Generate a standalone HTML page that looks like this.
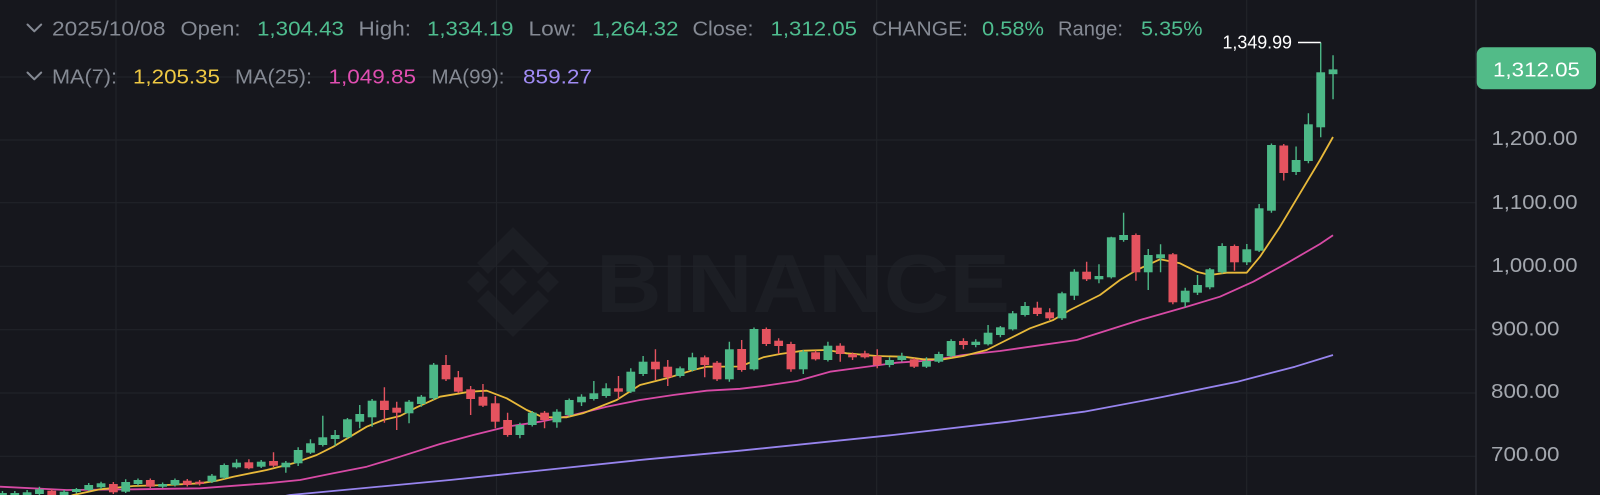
<!DOCTYPE html>
<html><head><meta charset="utf-8"><style>
html,body{margin:0;padding:0;background:#16171d;}
svg{display:block;}
text{font-family:"Liberation Sans",sans-serif;}
</style></head><body>
<svg width="1600" height="495" viewBox="0 0 1600 495" xmlns="http://www.w3.org/2000/svg">
<rect width="1600" height="495" fill="#16171d"/>
<g fill="#1c1e24">
<polygon points="513,268 527,282 513,296 499,282"/>
<polygon points="478,271 489,282 478,293 467,282"/>
<polygon points="548,271 559,282 548,293 537,282"/>
<polygon points="513,227 549,263 538,274 513,249 488,274 477,263"/>
<polygon points="513,337 549,301 538,290 513,315 488,290 477,301"/>
<text x="596" y="312" font-size="83" font-weight="bold" textLength="414" lengthAdjust="spacingAndGlyphs">BINANCE</text>
</g>
<g stroke="#212329" stroke-width="1.2">
<path d="M0 77H1476M0 140H1476M0 202.7H1476M0 266.3H1476M0 329.7H1476M0 393H1476M0 456.3H1476"/>
<path d="M116 0V495M496.5 0V495M876.7 0V495M1246.7 0V495"/>
</g>
<path d="M1476 0V495" stroke="#2a2d35" stroke-width="1.5"/>
<polyline fill="none" stroke="#9784ee" stroke-width="1.8" stroke-linejoin="round" points="280,497 290,495 450,480 646.7,459.3 740,450.7 893,435 1008,421.7 1084,411.7 1161,397.3 1237.5,381.7 1295,366.7 1333,355"/>
<polyline fill="none" stroke="#d74aa5" stroke-width="1.8" stroke-linejoin="round" points="0,486.7 66.7,490 133.3,489.3 200,488.3 266.7,483.3 300,480 333.3,473.3 366.7,466.7 400,456.7 440,444 473.3,435 506.7,426.7 540,421.7 573.3,415 606.7,406.7 640,400 673.3,395 706.7,390.7 740,388.8 763.3,386 797,381 830,371.7 850,369 896.7,362.7 930,360.5 963.3,355 1000,351 1030,346.7 1076.8,340 1140,320 1186.7,306.7 1220,296.7 1253.3,281.7 1286.7,263.3 1320,244 1333,235.2"/>
<polyline fill="none" stroke="#e8b93a" stroke-width="1.8" stroke-linejoin="round" points="60,500 73.3,495 100,489.3 133.3,486 166.7,485 200,483.3 216.7,480.7 233.3,476.7 266.7,470 293.3,463.3 316.7,455 333.3,446.7 350,436.7 366.7,426.7 383.3,420 400,416 416.7,407.3 440,396.7 470,391.7 486.7,390.7 506.7,398.3 526.7,410 543,417.3 566.7,417.3 583,413.3 616.7,400 640,385 666.7,378.3 693.3,370 706.7,366.7 740,366.5 763.3,357.3 780,354 803.3,350.7 826.7,350 846.7,353.3 876.7,356 903.3,356.7 923.3,359.3 943.3,359.3 963.3,356 986.7,350 1006.7,340 1030,328.3 1053.3,320 1070,310 1100,295 1120,280 1136.7,270 1160,259.3 1180,263.3 1196.7,271.7 1210,275 1226.7,272.7 1246.7,272.7 1260,256.7 1280,226.7 1300,193.3 1320,160 1333,137"/>
<g fill="#4cb887">
<path stroke="#4cb887" stroke-width="1.4" fill="none" d="M2.48 491V498M14.8 491V499M27.12 490V498M39.44 486.7V495.5M64.08 490V498M76.4 488V493.5M88.72 483V491M101.04 481.7V489M125.68 479.3V493M138 478.5V485.5M162.64 482.5V488M174.96 478.5V486.5M211.92 474V483M224.24 463.5V479M236.56 459.3V468.5M261.2 460V468M285.84 461V472.7M298.16 447.3V466M310.48 439.3V454M322.8 415.7V446.5M335.12 430V445.7M347.44 418V438.5M359.76 405V428.3M372.08 399V426.7M409.04 400V423.3M421.36 395V406.7M433.68 363V400M519.92 422.7V438.3M532.24 411V426.5M556.88 409.3V427.7M569.2 398.5V416.5M581.52 394.3V406M593.84 381V400.5M606.16 383.3V397.7M630.8 368.3V393M643.12 356V376M680.08 366.5V377.5M692.4 352.7V371.5M729.36 341.7V381.7M754 327.5V370.5M803.28 350V374M827.92 341.7V361.5M889.52 357.3V367.3M901.84 352.7V361.5M926.48 357.3V368M938.8 351.7V363M951.12 339.3V357.5M975.76 339.3V347.3M988.08 325V345.5M1000.4 326V337.3M1012.72 311V330.5M1025.04 302V316.5M1062 291.7V320M1074.32 269.3V300M1098.96 264.3V283.3M1111.28 236.7V278.5M1123.6 212.7V241.7M1148.24 249V290M1160.56 244.3V272.3M1185.2 287.7V307.3M1197.52 275V295M1209.84 268V289.3M1222.16 243.3V273.5M1246.8 244V265M1259.12 204V252M1271.44 143.5V212.7M1296.08 146.5V175M1308.4 113.3V163.3M1320.72 42.5V137.3M1333.04 55.2V99.3"/>
<rect x="-1.92" y="493" width="8.8" height="4"/>
<rect x="10.4" y="493" width="8.8" height="5"/>
<rect x="22.72" y="492.3" width="8.8" height="4.7"/>
<rect x="35.04" y="489.3" width="8.8" height="4.7"/>
<rect x="59.68" y="491.7" width="8.8" height="5.3"/>
<rect x="72" y="489" width="8.8" height="3"/>
<rect x="84.32" y="485" width="8.8" height="5"/>
<rect x="96.64" y="483.3" width="8.8" height="4"/>
<rect x="121.28" y="482" width="8.8" height="9.7"/>
<rect x="133.6" y="480" width="8.8" height="4"/>
<rect x="158.24" y="484" width="8.8" height="2.7"/>
<rect x="170.56" y="480" width="8.8" height="5"/>
<rect x="207.52" y="475.7" width="8.8" height="6"/>
<rect x="219.84" y="465" width="8.8" height="12.7"/>
<rect x="232.16" y="462.7" width="8.8" height="4.6"/>
<rect x="256.8" y="461.7" width="8.8" height="5"/>
<rect x="281.44" y="462.7" width="8.8" height="4.6"/>
<rect x="293.76" y="450" width="8.8" height="13.3"/>
<rect x="306.08" y="443.3" width="8.8" height="9.4"/>
<rect x="318.4" y="437.3" width="8.8" height="7.7"/>
<rect x="330.72" y="435" width="8.8" height="4"/>
<rect x="343.04" y="419.3" width="8.8" height="18"/>
<rect x="355.36" y="414" width="8.8" height="7.7"/>
<rect x="367.68" y="400.7" width="8.8" height="16.6"/>
<rect x="404.64" y="401.7" width="8.8" height="11.6"/>
<rect x="416.96" y="396.7" width="8.8" height="7.3"/>
<rect x="429.28" y="364.7" width="8.8" height="33.6"/>
<rect x="515.52" y="425" width="8.8" height="10"/>
<rect x="527.84" y="412.7" width="8.8" height="12.3"/>
<rect x="552.48" y="411.7" width="8.8" height="10.6"/>
<rect x="564.8" y="400" width="8.8" height="15"/>
<rect x="577.12" y="396.7" width="8.8" height="5.6"/>
<rect x="589.44" y="393.3" width="8.8" height="5.7"/>
<rect x="601.76" y="388.3" width="8.8" height="7.7"/>
<rect x="626.4" y="371.7" width="8.8" height="20"/>
<rect x="638.72" y="361.7" width="8.8" height="12.3"/>
<rect x="675.68" y="368.3" width="8.8" height="7.7"/>
<rect x="688" y="357.3" width="8.8" height="12.7"/>
<rect x="724.96" y="349.3" width="8.8" height="30"/>
<rect x="749.6" y="329" width="8.8" height="40.3"/>
<rect x="798.88" y="351.7" width="8.8" height="17.6"/>
<rect x="823.52" y="345.7" width="8.8" height="14.3"/>
<rect x="885.12" y="360" width="8.8" height="5"/>
<rect x="897.44" y="356" width="8.8" height="4"/>
<rect x="922.08" y="361" width="8.8" height="5.7"/>
<rect x="934.4" y="354" width="8.8" height="7.7"/>
<rect x="946.72" y="341" width="8.8" height="15"/>
<rect x="971.36" y="341.7" width="8.8" height="3.3"/>
<rect x="983.68" y="332.7" width="8.8" height="11.6"/>
<rect x="996" y="327.3" width="8.8" height="7.7"/>
<rect x="1008.32" y="313.3" width="8.8" height="16"/>
<rect x="1020.64" y="306" width="8.8" height="9"/>
<rect x="1057.6" y="293.3" width="8.8" height="25"/>
<rect x="1069.92" y="271.7" width="8.8" height="24"/>
<rect x="1094.56" y="276" width="8.8" height="3.3"/>
<rect x="1106.88" y="237.3" width="8.8" height="40"/>
<rect x="1119.2" y="235" width="8.8" height="5"/>
<rect x="1143.84" y="255" width="8.8" height="17.3"/>
<rect x="1156.16" y="254.3" width="8.8" height="4"/>
<rect x="1180.8" y="290.7" width="8.8" height="11.6"/>
<rect x="1193.12" y="285" width="8.8" height="7.7"/>
<rect x="1205.44" y="269.3" width="8.8" height="18"/>
<rect x="1217.76" y="246" width="8.8" height="26.3"/>
<rect x="1242.4" y="249.3" width="8.8" height="13"/>
<rect x="1254.72" y="208.3" width="8.8" height="42.4"/>
<rect x="1267.04" y="145" width="8.8" height="65.7"/>
<rect x="1291.68" y="160" width="8.8" height="12"/>
<rect x="1304" y="124.3" width="8.8" height="36.7"/>
<rect x="1316.32" y="72.3" width="8.8" height="55"/>
<rect x="1328.64" y="69.4" width="8.8" height="4.8"/>
</g>
<g fill="#e4535f">
<path stroke="#e4535f" stroke-width="1.4" fill="none" d="M51.76 489V497M113.36 482V494M150.32 478.5V488M187.28 479V486.5M199.6 480V485.5M248.88 459.3V469.3M273.52 452.3V467M384.4 387.3V422.7M396.72 401.7V430M446 355V381M458.32 371V393M470.64 386V415M482.96 384V407M495.28 396V428.3M507.6 412.7V436.7M544.56 411V428.3M618.48 376V399M655.44 349.3V380M667.76 360V386M704.72 355.5V377.3M717.04 361V381M741.68 340V371.7M766.32 327.5V346M778.64 338.3V354M790.96 341.7V371.7M815.6 350.5V360.5M840.24 343.3V361.7M852.56 352.5V360M864.88 350.7V358.5M877.2 349.3V368.3M914.16 358V368M963.44 338.3V349.3M1037.36 301.7V316M1049.68 308.3V320M1086.64 261.7V281M1135.92 233.5V280.7M1172.88 253V304.3M1234.48 244.5V270.7M1283.76 144V180.5"/>
<rect x="47.36" y="490.7" width="8.8" height="5.3"/>
<rect x="108.96" y="484" width="8.8" height="8.3"/>
<rect x="145.92" y="480" width="8.8" height="6.7"/>
<rect x="182.88" y="480.7" width="8.8" height="4.3"/>
<rect x="195.2" y="481.7" width="8.8" height="2.3"/>
<rect x="244.48" y="462.3" width="8.8" height="6"/>
<rect x="269.12" y="461" width="8.8" height="4.7"/>
<rect x="380" y="400.7" width="8.8" height="9.3"/>
<rect x="392.32" y="407.7" width="8.8" height="5"/>
<rect x="441.6" y="365" width="8.8" height="14.3"/>
<rect x="453.92" y="377.3" width="8.8" height="14.4"/>
<rect x="466.24" y="389.3" width="8.8" height="9.7"/>
<rect x="478.56" y="396.7" width="8.8" height="9"/>
<rect x="490.88" y="403.3" width="8.8" height="18.4"/>
<rect x="503.2" y="420" width="8.8" height="15"/>
<rect x="540.16" y="412.7" width="8.8" height="7.3"/>
<rect x="614.08" y="388.3" width="8.8" height="3.4"/>
<rect x="651.04" y="361.7" width="8.8" height="7.6"/>
<rect x="663.36" y="366.7" width="8.8" height="10.6"/>
<rect x="700.32" y="357.3" width="8.8" height="7.7"/>
<rect x="712.64" y="362.7" width="8.8" height="16.6"/>
<rect x="737.28" y="349" width="8.8" height="21"/>
<rect x="761.92" y="329" width="8.8" height="15"/>
<rect x="774.24" y="340.7" width="8.8" height="5.3"/>
<rect x="786.56" y="344" width="8.8" height="25.3"/>
<rect x="811.2" y="352.3" width="8.8" height="7"/>
<rect x="835.84" y="345.7" width="8.8" height="8.3"/>
<rect x="848.16" y="354" width="8.8" height="3.3"/>
<rect x="860.48" y="353.3" width="8.8" height="4"/>
<rect x="872.8" y="356" width="8.8" height="9"/>
<rect x="909.76" y="359.3" width="8.8" height="7.4"/>
<rect x="959.04" y="341" width="8.8" height="4"/>
<rect x="1032.96" y="307.7" width="8.8" height="6.3"/>
<rect x="1045.28" y="312.3" width="8.8" height="6"/>
<rect x="1082.24" y="271.7" width="8.8" height="7.6"/>
<rect x="1131.52" y="235" width="8.8" height="37.3"/>
<rect x="1168.48" y="254.3" width="8.8" height="48"/>
<rect x="1230.08" y="246" width="8.8" height="16.3"/>
<rect x="1279.36" y="145.5" width="8.8" height="27.5"/>
</g>
<path d="M1298 42.5H1320.7" stroke="#ffffff" stroke-width="1.5"/>
<text x="1222.5" y="48.3" font-size="18" fill="#ffffff" textLength="69.5" lengthAdjust="spacingAndGlyphs">1,349.99</text>
<g fill="none" stroke="#858a94" stroke-width="2" stroke-linecap="round" stroke-linejoin="round">
<polyline points="27.5,24.5 34.3,31.3 41.2,24.5"/>
<polyline points="27.5,72.5 34.3,79.3 41.2,72.5"/>
</g>
<g font-size="20">
<text x="52" y="35.3" fill="#858a94" textLength="113.5" lengthAdjust="spacingAndGlyphs">2025/10/08</text>
<text x="180.5" y="35.3" fill="#858a94" textLength="60" lengthAdjust="spacingAndGlyphs">Open:</text>
<text x="257" y="35.3" fill="#4fbd8f" textLength="87" lengthAdjust="spacingAndGlyphs">1,304.43</text>
<text x="358.5" y="35.3" fill="#858a94" textLength="52.5" lengthAdjust="spacingAndGlyphs">High:</text>
<text x="427" y="35.3" fill="#4fbd8f" textLength="86.5" lengthAdjust="spacingAndGlyphs">1,334.19</text>
<text x="528.5" y="35.3" fill="#858a94" textLength="48" lengthAdjust="spacingAndGlyphs">Low:</text>
<text x="592" y="35.3" fill="#4fbd8f" textLength="86.5" lengthAdjust="spacingAndGlyphs">1,264.32</text>
<text x="692.5" y="35.3" fill="#858a94" textLength="61" lengthAdjust="spacingAndGlyphs">Close:</text>
<text x="770.5" y="35.3" fill="#4fbd8f" textLength="86.5" lengthAdjust="spacingAndGlyphs">1,312.05</text>
<text x="872" y="35.3" fill="#858a94" textLength="96" lengthAdjust="spacingAndGlyphs">CHANGE:</text>
<text x="982" y="35.3" fill="#4fbd8f" textLength="62" lengthAdjust="spacingAndGlyphs">0.58%</text>
<text x="1058" y="35.3" fill="#858a94" textLength="65" lengthAdjust="spacingAndGlyphs">Range:</text>
<text x="1141" y="35.3" fill="#4fbd8f" textLength="61.5" lengthAdjust="spacingAndGlyphs">5.35%</text>
<text x="52" y="83.3" fill="#858a94" textLength="65" lengthAdjust="spacingAndGlyphs">MA(7):</text>
<text x="133" y="83.3" fill="#eec843" textLength="87" lengthAdjust="spacingAndGlyphs">1,205.35</text>
<text x="235" y="83.3" fill="#858a94" textLength="77" lengthAdjust="spacingAndGlyphs">MA(25):</text>
<text x="328.5" y="83.3" fill="#e04eb1" textLength="87.5" lengthAdjust="spacingAndGlyphs">1,049.85</text>
<text x="431.5" y="83.3" fill="#858a94" textLength="73" lengthAdjust="spacingAndGlyphs">MA(99):</text>
<text x="523" y="83.3" fill="#a18cf5" textLength="69" lengthAdjust="spacingAndGlyphs">859.27</text>
</g>
<g font-size="20" fill="#a3a7ae">
<text x="1491.5" y="145" textLength="86" lengthAdjust="spacingAndGlyphs">1,200.00</text>
<text x="1491.5" y="208.9" textLength="86" lengthAdjust="spacingAndGlyphs">1,100.00</text>
<text x="1491.5" y="272.2" textLength="86" lengthAdjust="spacingAndGlyphs">1,000.00</text>
<text x="1491" y="335.5" textLength="68.5" lengthAdjust="spacingAndGlyphs">900.00</text>
<text x="1491" y="397.9" textLength="68.5" lengthAdjust="spacingAndGlyphs">800.00</text>
<text x="1491" y="461.2" textLength="68.5" lengthAdjust="spacingAndGlyphs">700.00</text>
</g>
<rect x="1476.7" y="47.3" width="119.3" height="42" rx="7" ry="7" fill="#52bb88"/>
<text x="1493" y="76.5" font-size="20" fill="#ffffff" textLength="87" lengthAdjust="spacingAndGlyphs">1,312.05</text>
</svg>
</body></html>
